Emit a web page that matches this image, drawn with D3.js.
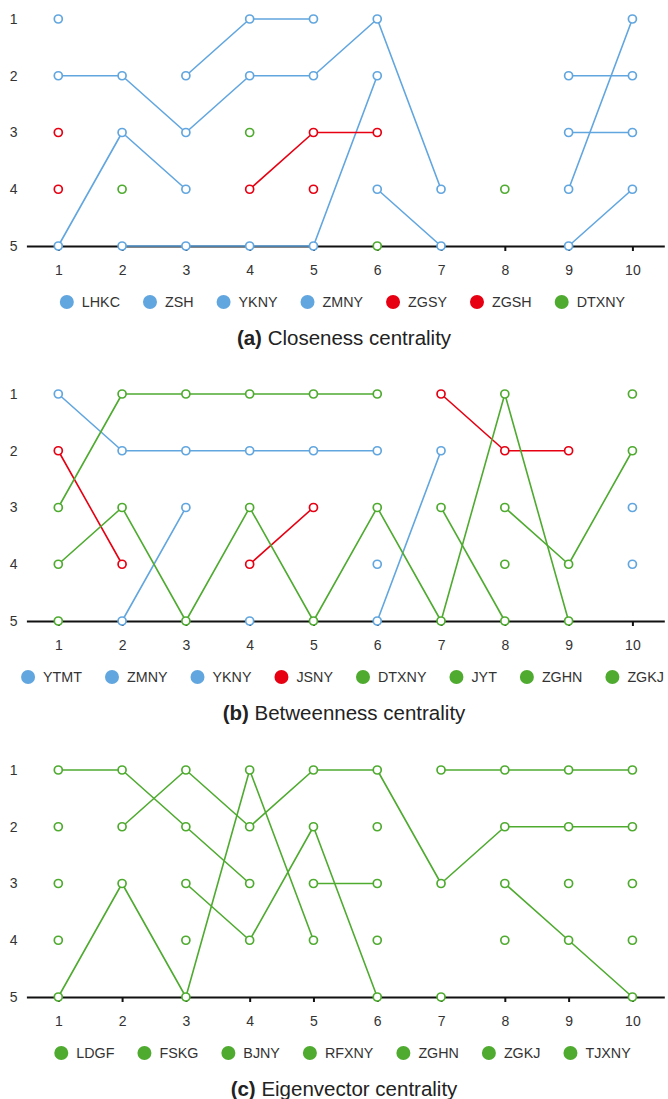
<!DOCTYPE html>
<html><head><meta charset="utf-8">
<script src="https://cdn.jsdelivr.net/npm/d3@7"></script>
<style>
html,body{margin:0;padding:0;background:#fff;}
svg{display:block;font-family:"Liberation Sans",Arial,Helvetica,sans-serif;}
</style></head>
<body><svg id="chart" width="668" height="1099"></svg>
<script>
// ---------- data ----------
const periods = [1,2,3,4,5,6,7,8,9,10];
const rankTicks = [1,2,3,4,5];

// (a) Closeness centrality
const closenessNames  = ["LHKC","ZSH","YKNY","ZMNY","ZGSY","ZGSH","DTXNY"];
const closenessGroups = ["blue","blue","blue","blue","red","red","green"];
const closenessLHKC  = [2,2,3,2,2,1,4,null,2,2];
const closenessZSH   = [5,3,4,null,null,4,5,null,3,3];
const closenessYKNY  = [1,null,2,1,1,null,null,null,4,1];
const closenessZMNY  = [null,5,5,5,5,2,null,null,5,4];
const closenessZGSY  = [3,null,null,4,3,3,null,null,null,null];
const closenessZGSH  = [4,null,null,null,4,null,null,null,null,null];
const closenessDTXNY = [null,4,null,3,null,5,null,4,null,null];

// (b) Betweenness centrality
const betweenNames  = ["YTMT","ZMNY","YKNY","JSNY","DTXNY","JYT","ZGHN","ZGKJ"];
const betweenGroups = ["blue","blue","blue","red","green","green","green","green"];
const betweenYTMT  = [1,2,2,2,2,2,null,null,null,null];
const betweenZMNY  = [null,5,3,null,null,5,2,null,null,3];
const betweenYKNY  = [null,null,null,5,null,4,null,null,null,4];
const betweenJSNY  = [2,4,null,4,3,null,1,2,2,null];
const betweenDTXNY = [3,1,1,1,1,1,null,4,null,1];
const betweenJYT   = [4,3,5,3,5,3,5,1,5,null];
const betweenZGHN  = [5,null,null,null,null,null,3,5,null,null];
const betweenZGKJ  = [null,null,null,null,null,null,null,3,4,2];

// (c) Eigenvector centrality
const eigenNames  = ["LDGF","FSKG","BJNY","RFXNY","ZGHN","ZGKJ","TJXNY"];
const eigenGroups = ["green","green","green","green","green","green","green"];
const eigenLDGF  = [1,1,2,3,null,2,null,4,null,3];
const eigenFSKG  = [null,2,1,2,1,1,3,2,2,2];
const eigenBJNY  = [5,3,5,1,4,null,5,null,3,null];
const eigenRFXNY = [2,null,3,4,2,5,null,null,null,4];
const eigenZGHN  = [3,null,4,null,3,3,null,null,null,null];
const eigenZGKJ  = [4,null,null,null,null,null,1,1,1,1];
const eigenTJXNY = [null,null,null,null,null,4,null,3,4,5];

const captionTags  = ["(a)","(b)","(c)"];
const captionTexts = [" Closeness centrality"," Betweenness centrality"," Eigenvector centrality"];

// ---------- style ----------
const palette = {blue:"#62a6df", red:"#e60012", green:"#4fab30"};
const panels = [
  {names: closenessNames, groups: closenessGroups,
   values: [closenessLHKC,closenessZSH,closenessYKNY,closenessZMNY,closenessZGSY,closenessZGSH,closenessDTXNY]},
  {names: betweenNames, groups: betweenGroups,
   values: [betweenYTMT,betweenZMNY,betweenYKNY,betweenJSNY,betweenDTXNY,betweenJYT,betweenZGHN,betweenZGKJ]},
  {names: eigenNames, groups: eigenGroups,
   values: [eigenLDGF,eigenFSKG,eigenBJNY,eigenRFXNY,eigenZGHN,eigenZGKJ,eigenTJXNY]}
];
const offsets = [0, 375, 751];

const svg = d3.select("#chart");
const x = d3.scalePoint().domain(periods).range([26.4, 664.3]).padding(0.5);
const y = d3.scaleLinear().domain([1,5]).range([19, 246]);

const measurer = svg.append("text").attr("font-size",14).attr("visibility","hidden");
function tw(s, size, weight){
  measurer.attr("font-size", size).attr("font-weight", weight||"normal").text(s);
  return measurer.node().getComputedTextLength();
}

panels.forEach((p, pi) => {
  const g = svg.append("g").attr("transform", `translate(0,${offsets[pi]})`);

  // x axis
  const ax = g.append("g").attr("transform", `translate(0,${y(5)})`)
    .call(d3.axisBottom(x).tickSize(5).tickSizeOuter(0).tickPadding(14));
  ax.select(".domain").attr("stroke","#111").attr("stroke-width",2.2);
  ax.selectAll(".tick line").attr("stroke","#111").attr("stroke-width",2);
  ax.selectAll(".tick text").attr("font-size",14).attr("fill","#333")
    .attr("font-family","Liberation Sans, Arial, sans-serif");

  // y axis labels
  const ay = g.append("g").attr("transform","translate(26,0)")
    .call(d3.axisLeft(y).tickValues(rankTicks).tickFormat(d3.format("d")).tickSize(0).tickPadding(8.5));
  ay.select(".domain").remove();
  ay.selectAll(".tick text").attr("font-size",14).attr("fill","#333")
    .attr("font-family","Liberation Sans, Arial, sans-serif");

  const line = d3.line().defined(d => d.v != null).x(d => x(d.t)).y(d => y(d.v));

  const series = p.values.map((vals, si) => ({
    name: p.names[si], color: palette[p.groups[si]],
    pts: vals.map((v, i) => ({t: periods[i], v}))
  }));

  series.forEach(s => {
    g.append("path").datum(s.pts).attr("d", line)
      .attr("fill","none").attr("stroke", s.color).attr("stroke-width",1.6)
      .attr("stroke-linejoin","round");
  });
  series.forEach(s => {
    g.selectAll(null).data(s.pts.filter(d => d.v != null)).enter().append("circle")
      .attr("cx", d => x(d.t)).attr("cy", d => y(d.v)).attr("r", 4)
      .attr("fill","#fff").attr("stroke", s.color).attr("stroke-width",1.7);
  });

  // legend
  const gap = 20, iconW = 20, textGap = 5, fs = 14.3;
  const widths = p.names.map(n => tw(n, fs));
  const total = d3.sum(widths) + p.names.length*(iconW+textGap) + (p.names.length-1)*gap;
  let lx = 341 - total/2;
  const ly = y(5) + 56;
  p.names.forEach((n, i) => {
    g.append("circle").attr("cx", lx + iconW/2).attr("cy", ly).attr("r", 7)
      .attr("fill", palette[p.groups[i]]);
    g.append("text").attr("x", lx + iconW + textGap).attr("y", ly).attr("dy","0.36em")
      .attr("font-size",fs).attr("fill","#333").text(n);
    lx += iconW + textGap + widths[i] + gap;
  });

  // caption
  const cap = g.append("text").attr("x", 344).attr("y", y(5) + 92).attr("dy","0.36em")
    .attr("text-anchor","middle").attr("font-size",20.5).attr("fill","#222");
  cap.append("tspan").attr("font-weight","bold").text(captionTags[pi]);
  cap.append("tspan").text(captionTexts[pi]);
});
measurer.remove();
</script>
</body></html>
